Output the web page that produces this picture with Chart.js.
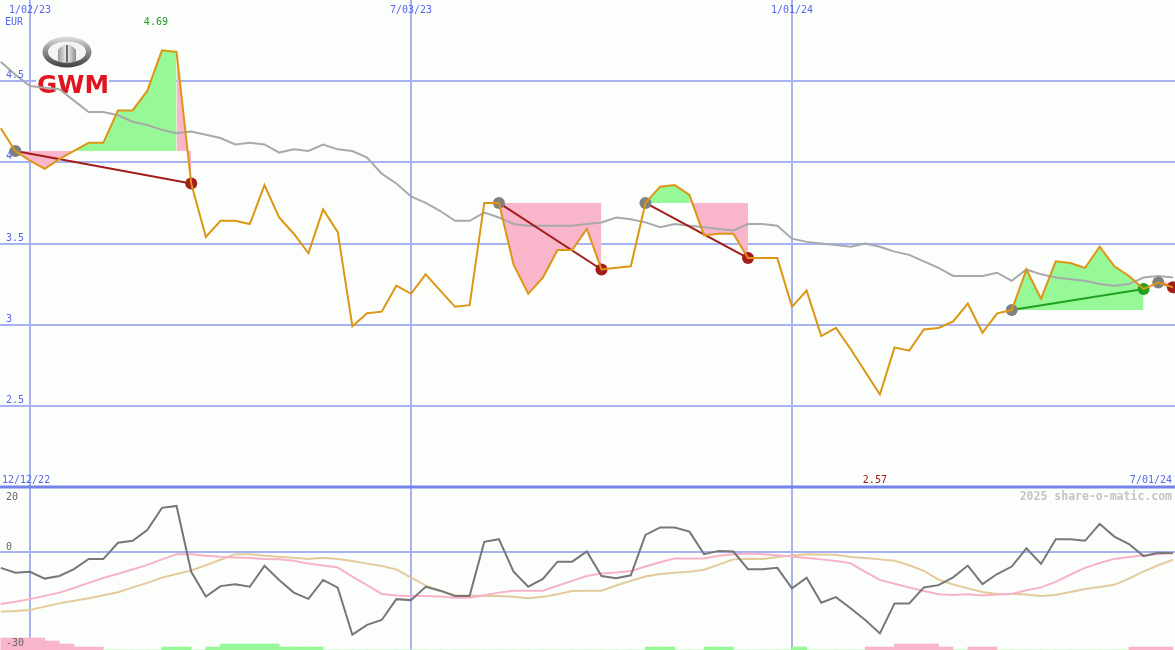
<!DOCTYPE html>
<html lang="en">
<head>
<meta charset="UTF-8">
<title>GWM weekly chart</title>
<script src="https://cdn.jsdelivr.net/npm/chart.js"></script>
<style>
  body { margin: 0; background: #fcfefc; }
  #wrap { width: 1175px; height: 650px; }
</style>
</head>
<body>
<div id="wrap"><canvas id="chart" width="1175" height="650"></canvas></div>
<script>
// weekly closes, week 0 = 1/02/23, first point is week -2
const firstWeek = -2;
const price = [
  4.21, 4.07, 4.01, 3.96, 4.02, 4.07, 4.12, 4.12, 4.32, 4.32,
  4.44, 4.69, 4.68, 3.87, 3.54, 3.64, 3.64, 3.62, 3.86, 3.66,
  3.56, 3.44, 3.71, 3.57, 2.99, 3.07, 3.08, 3.24, 3.19, 3.31,
  3.21, 3.11, 3.12, 3.75, 3.75, 3.37, 3.19, 3.29, 3.46, 3.46,
  3.59, 3.34, 3.35, 3.36, 3.75, 3.85, 3.86, 3.80, 3.55, 3.56,
  3.56, 3.41, 3.41, 3.41, 3.11, 3.21, 2.93, 2.98, 2.85, 2.71,
  2.57, 2.86, 2.84, 2.97, 2.98, 3.02, 3.13, 2.95, 3.07, 3.09,
  3.34, 3.16, 3.39, 3.38, 3.35, 3.48, 3.36, 3.30, 3.22, 3.26, 3.23
];
const average = [
  4.62, 4.54, 4.47, 4.46, 4.45, 4.38, 4.31, 4.31, 4.29, 4.25,
  4.23, 4.20, 4.18, 4.19, 4.17, 4.15, 4.11, 4.12, 4.11, 4.06,
  4.08, 4.07, 4.11, 4.08, 4.07, 4.03, 3.93, 3.87, 3.79, 3.75,
  3.70, 3.64, 3.64, 3.69, 3.66, 3.62, 3.61, 3.61, 3.61, 3.61,
  3.62, 3.63, 3.66, 3.65, 3.63, 3.60, 3.62, 3.61, 3.60, 3.59,
  3.58, 3.62, 3.62, 3.61, 3.53, 3.51, 3.50, 3.49, 3.48, 3.50,
  3.48, 3.45, 3.43, 3.39, 3.35, 3.30, 3.30, 3.30, 3.32, 3.27,
  3.34, 3.31, 3.29, 3.28, 3.27, 3.25, 3.24, 3.25, 3.29, 3.30, 3.29
];
const oscFast = [
  -4.8, -6.3, -6.0, -8.1, -7.3, -5.2, -2.1, -2.1, 2.9, 3.5,
  6.8, 13.6, 14.2, -6.0, -13.6, -10.4, -9.8, -10.6, -4.2, -8.5,
  -12.4, -14.3, -8.5, -10.9, -25.3, -22.3, -20.8, -14.4, -14.7, -10.6,
  -11.8, -13.4, -13.4, 3.2, 4.0, -6.0, -10.6, -8.2, -2.9, -2.9,
  0.2, -7.3, -8.0, -7.1, 5.3, 7.6, 7.6, 6.3, -0.6, 0.4,
  0.2, -5.2, -5.2, -4.8, -11.1, -7.8, -15.5, -13.8, -17.2, -20.8,
  -24.9, -15.7, -15.7, -10.8, -10.1, -7.7, -4.1, -9.8, -6.7, -4.4,
  1.2, -3.6, 4.0, 4.0, 3.5, 8.7, 4.8, 2.5, -1.2, -0.2, -0.3
];
const oscSignal = [
  -15.9, -15.2, -14.4, -13.4, -12.4, -11.0, -9.4, -7.9, -6.6, -5.3,
  -3.9, -2.2, -0.6, -0.6, -1.1, -1.4, -1.6, -1.8, -2.1, -2.2,
  -2.6, -3.5, -4.1, -4.7, -7.5, -10.1, -12.8, -13.3, -13.4, -13.4,
  -13.6, -14.0, -14.0, -13.2, -12.4, -11.8, -11.8, -11.8, -10.3, -8.8,
  -7.3, -6.5, -6.2, -5.8, -4.4, -3.1, -1.9, -1.9, -1.9, -1.1,
  -0.6, -0.4, -0.6, -0.95, -1.3, -1.8, -2.2, -2.7, -3.4, -6.0,
  -8.5, -9.7, -10.8, -11.9, -12.9, -13.1, -12.9, -13.25, -13.0, -12.8,
  -11.7, -10.8, -9.1, -6.9, -4.8, -3.3, -2.05, -1.5, -0.9, -0.6, -0.15
];
const oscSlow = [
  -18.25, -18.0, -17.7, -16.7, -15.7, -14.9, -14.1, -13.2, -12.3, -10.8,
  -9.4, -7.8, -6.7, -5.6, -4.0, -2.3, -0.6, -0.6, -1.1, -1.4,
  -1.7, -2.1, -1.7, -2.1, -2.7, -3.5, -4.2, -5.3, -7.8, -10.2,
  -11.9, -13.2, -13.3, -13.4, -13.4, -13.65, -14.1, -13.7, -12.9, -11.9,
  -11.8, -11.8, -10.2, -8.8, -7.45, -6.7, -6.3, -6.0, -5.4, -3.8,
  -2.2, -2.0, -2.1, -1.5, -1.0, -0.6, -0.7, -0.8, -1.5, -1.8,
  -2.2, -2.6, -4.0, -5.7, -8.4, -9.9, -11.1, -12.2, -12.8, -12.8,
  -13.0, -13.4, -13.1, -12.2, -11.3, -10.7, -10.0, -8.1, -5.9, -4.0, -2.3
];
// signal strength per week (negative = pink, positive = green)
const histo = [
  -4, -4, -4, -3, -2, -1, -1, 0, 0, 0,
  0, 1, 1, 0, 1, 2, 2, 2, 2, 1,
  1, 1, 0, 0, 0, 0, 0, 0, 0, 0,
  0, 0, 0, 0, 0, 0, 0, 0, 0, 0,
  0, 0, 0, 0, 1, 1, 0, 0, 1, 1,
  0, 0, 0, 0, 1, 0, 0, 0, 0, -1,
  -1, -2, -2, -2, -1, 0, -1, -1, 0, 0,
  0, 0, 0, 0, 0, 0, 0, -1, -1, -1
];
const tradeEntry = [-1, 32, 42, 67, 77];
const tradeExit = [11, 39, 49, 76, 78];
const dateTicks = [0, 26, 52];
const dateLabels = ['1/02/23', '7/03/23', '1/01/24'];
const rangeStart = '12/12/22';
const rangeEnd = '7/01/24';
const priceTicks = [2.5, 3, 3.5, 4, 4.5];
const oscGrid = [0];
const oscLabels = [20, 0, -30];

const GREEN_FILL = '#96f896';
const PINK_FILL = '#f9b5ca';
const GRID = '#a6b2f2';
const LABEL_BLUE = '#5566ee';
const MONO = '"DejaVu Sans Mono", monospace';

const pts = arr => arr.map((v, i) => ({x: firstWeek + i, y: v}));
const priceAt = w => price[w - firstWeek];

const datasets = [];

datasets.push({
  label: 'price', data: pts(price), yAxisID: 'y',
  borderColor: '#dc9614', borderWidth: 2, pointRadius: 0, order: 0
});
datasets.push({
  label: 'average', data: pts(average), yAxisID: 'y',
  borderColor: '#a9a9a9', borderWidth: 2, pointRadius: 0, order: 4
});

tradeEntry.forEach((w0, k) => {
  const w1 = tradeExit[k];
  const level = priceAt(w0);
  const won = priceAt(w1) > level;
  datasets.push({
    data: pts(price).slice(w0 - firstWeek, w1 - firstWeek + 1), yAxisID: 'y',
    borderWidth: 0, borderColor: 'rgba(0,0,0,0)', pointRadius: 0, order: 5,
    fill: {target: {value: level}, above: GREEN_FILL, below: PINK_FILL},
    segment: {backgroundColor: c => c.p1.parsed.y > level ? GREEN_FILL : PINK_FILL}
  });
  datasets.push({
    data: [{x: w0, y: level}, {x: w1, y: priceAt(w1)}], yAxisID: 'y',
    borderColor: won ? '#22a022' : '#a51c1c', borderWidth: 2, pointRadius: 0, order: 2
  });
});

datasets.push({
  data: tradeEntry.map(w => ({x: w, y: priceAt(w)})), yAxisID: 'y', showLine: false,
  pointRadius: 6, pointBorderWidth: 0, pointBackgroundColor: '#808080', order: 1
});
datasets.push({
  data: tradeExit.map(w => ({x: w, y: priceAt(w)})), yAxisID: 'y', showLine: false,
  pointRadius: 6, pointBorderWidth: 0, order: 1,
  pointBackgroundColor: tradeExit.map((w, k) => priceAt(w) > priceAt(tradeEntry[k]) ? '#22a022' : '#a51c1c')
});

datasets.push({
  data: pts(oscSlow), yAxisID: 'y2', borderColor: '#e3cb9c', borderWidth: 2, pointRadius: 0, order: 8
});
datasets.push({
  data: pts(oscSignal), yAxisID: 'y2', borderColor: '#f7b2c8', borderWidth: 2, pointRadius: 0, order: 7
});
datasets.push({
  data: pts(oscFast), yAxisID: 'y2', borderColor: '#777777', borderWidth: 2, pointRadius: 0, order: 6
});
datasets.push({
  type: 'bar', yAxisID: 'yh', order: 9,
  data: histo.map((v, i) => ({x: firstWeek + i + 0.5, y: Math.abs(v)})),
  backgroundColor: histo.map(v => v < 0 ? PINK_FILL : GREEN_FILL),
  borderWidth: 0, barPercentage: 1, categoryPercentage: 1
});

function drawLogo(ctx) {
  ctx.save();
  // emblem
  const cx = 67, cy = 52;
  let g = ctx.createLinearGradient(0, cy - 16, 0, cy + 16);
  g.addColorStop(0, '#e4e4e4'); g.addColorStop(0.5, '#8a8a8a'); g.addColorStop(1, '#3c3c3c');
  ctx.fillStyle = g;
  ctx.beginPath(); ctx.ellipse(cx, cy, 24.5, 15.5, 0, 0, Math.PI * 2); ctx.fill();
  ctx.fillStyle = '#f4f4f4';
  ctx.beginPath(); ctx.ellipse(cx, cy, 19, 10.5, 0, 0, Math.PI * 2); ctx.fill();
  g = ctx.createLinearGradient(cx - 9, 0, cx + 9, 0);
  g.addColorStop(0, '#9a9a9a'); g.addColorStop(0.5, '#f2f2f2'); g.addColorStop(1, '#8c8c8c');
  ctx.fillStyle = g;
  ctx.beginPath();
  ctx.moveTo(cx - 9, cy + 10);
  ctx.lineTo(cx - 9, cy - 2);
  ctx.quadraticCurveTo(cx, cy - 13, cx + 9, cy - 2);
  ctx.lineTo(cx + 9, cy + 10);
  ctx.closePath(); ctx.fill();
  ctx.fillStyle = '#6a6a6a';
  ctx.fillRect(cx - 1, cy - 7, 2, 17);
  // brand text
  ctx.fillStyle = '#fcfefc';
  ctx.fillRect(36, 76, 73, 20);
  ctx.font = 'bold 24px "DejaVu Sans"';
  ctx.textBaseline = 'alphabetic';
  ctx.textAlign = 'left';
  const w = ctx.measureText('GWM').width;
  ctx.translate(37, 93);
  ctx.scale(72 / w, 1);
  ctx.fillStyle = '#e0141e';
  ctx.fillText('GWM', 0, 0);
  ctx.restore();
}

const decor = {
  id: 'decor',
  beforeDraw(chart) {
    const ctx = chart.ctx;
    ctx.save();
    ctx.fillStyle = '#fcfefc';
    ctx.fillRect(0, 0, chart.width, chart.height);
    ctx.restore();
  },
  beforeDatasetsDraw(chart) {
    const {ctx} = chart;
    const {x, y} = chart.scales;
    // panel separator
    ctx.save();
    ctx.strokeStyle = '#7383ea';
    ctx.lineWidth = 3;
    ctx.beginPath();
    ctx.moveTo(x.left, y.bottom);
    ctx.lineTo(x.right, y.bottom);
    ctx.stroke();
    ctx.restore();
    drawLogo(ctx);
  },
  afterDatasetsDraw(chart) {
    const {ctx} = chart;
    const {x, y, y2} = chart.scales;
    ctx.save();
    ctx.font = '10px ' + MONO;
    ctx.textBaseline = 'alphabetic';

    ctx.fillStyle = LABEL_BLUE;
    ctx.textAlign = 'left';
    ctx.fillText('EUR', 5, 25);
    priceTicks.forEach(v => ctx.fillText(String(v), 6, y.getPixelForValue(v) - 3));

    ctx.textAlign = 'center';
    dateTicks.forEach((w, i) => ctx.fillText(dateLabels[i], x.getPixelForValue(w), 13));

    ctx.textAlign = 'left';
    ctx.fillText(rangeStart, 2, y.bottom - 4);
    ctx.textAlign = 'right';
    ctx.fillText(rangeEnd, x.right - 3, y.bottom - 4);

    // max / min annotations
    const hi = Math.max(...price), lo = Math.min(...price);
    const hiW = firstWeek + price.indexOf(hi), loW = firstWeek + price.indexOf(lo);
    ctx.textAlign = 'center';
    ctx.fillStyle = '#229922';
    ctx.fillText(hi.toFixed(2), x.getPixelForValue(hiW) - 6, 25);
    ctx.fillStyle = '#a01818';
    ctx.fillText(lo.toFixed(2), x.getPixelForValue(loW) - 5, y.bottom - 4);

    // oscillator labels
    ctx.fillStyle = '#666666';
    ctx.textAlign = 'left';
    oscLabels.forEach(v => {
      const py = y2.getPixelForValue(v);
      const by = v === 20 ? py + 13 : (v === 0 ? py - 2 : py - 4);
      ctx.fillText(String(v), 6, by);
    });

    // watermark
    ctx.font = 'bold 11.5px ' + MONO;
    ctx.fillStyle = '#c4c4c4';
    ctx.textAlign = 'right';
    ctx.fillText('2025 share-o-matic.com', x.right - 3, y2.top + 13);
    ctx.restore();
  }
};

new Chart(document.getElementById('chart'), {
  type: 'line',
  data: {datasets},
  options: {
    responsive: false,
    devicePixelRatio: 1,
    animation: false,
    events: [],
    layout: {padding: 0, autoPadding: false},
    elements: {line: {tension: 0}},
    plugins: {legend: {display: false}, tooltip: {enabled: false}},
    scales: {
      x: {
        type: 'linear', min: -2.05, max: 78.14, offset: false,
        afterBuildTicks: s => { s.ticks = dateTicks.map(v => ({value: v})); },
        grid: {color: GRID, lineWidth: 2, drawTicks: false, offset: false},
        border: {display: false},
        ticks: {display: false}
      },
      y: {
        type: 'linear', position: 'left', stack: 'panes', stackWeight: 487, weight: 2,
        min: 2, max: 5,
        afterBuildTicks: s => { s.ticks = priceTicks.map(v => ({value: v})); },
        grid: {color: GRID, lineWidth: 2, drawTicks: false},
        border: {display: false},
        ticks: {display: false}
      },
      y2: {
        type: 'linear', position: 'left', stack: 'panes', stackWeight: 163, weight: 1,
        min: -30, max: 20,
        afterBuildTicks: s => { s.ticks = oscGrid.map(v => ({value: v})); },
        grid: {color: GRID, lineWidth: 2, drawTicks: false},
        border: {display: false},
        ticks: {display: false}
      },
      yh: {
        type: 'linear', display: false, min: 0, max: 216.7
      }
    }
  },
  plugins: [decor]
});
</script>
</body>
</html>
